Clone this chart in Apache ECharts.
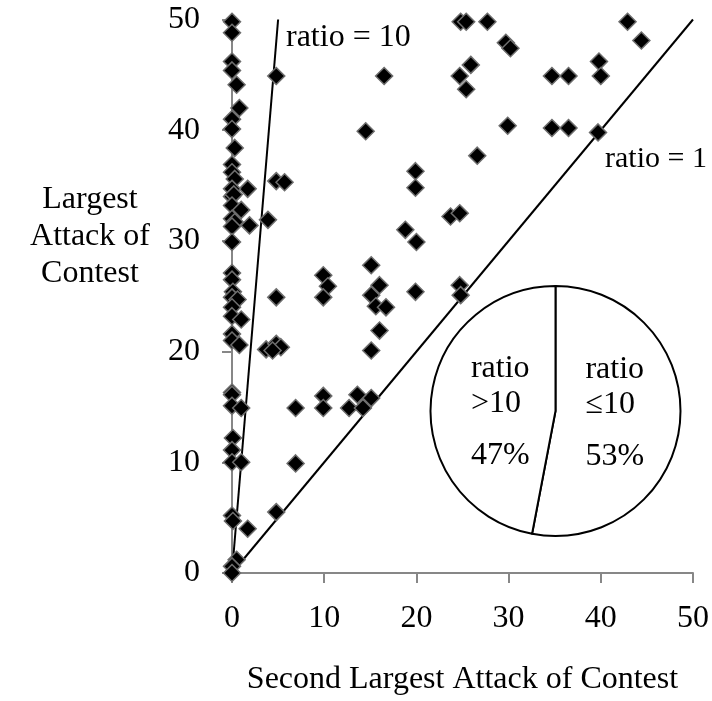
<!DOCTYPE html>
<html>
<head>
<meta charset="utf-8">
<script src="https://cdn.jsdelivr.net/npm/echarts@6/dist/echarts.min.js"></script>
<style>
html,body{margin:0;padding:0;background:#fff;}
#chart{width:712px;height:701px;}
</style>
</head>
<body>
<div id="chart"></div>
<script>
// Second largest attack (x) and largest attack (y) of each contest
const secondLargest = [
  0, 0, 0, 0, 0.5, 0.8, 0, 0, 0.3, 0, 0, 0.3, 1.7, 0, 0, 0.2, 0, 1.0, 0, 0.3,
  0, 1.9, 3.9, 0, 0, 0, 0.1, 0, 0.6, 0, 0, 1.0, 0, 0, 0.8, 0, 0, 0, 1.0, 0.1,
  0, 0, 1.0, 0, 0.1, 1.7, 0.5, 0, 0,
  4.8, 4.8, 5.7, 4.8, 3.7, 4.8, 5.3, 4.4, 4.8, 6.9, 6.9,
  16.5, 14.5, 24.8, 25.4, 27.7, 29.7, 30.2, 25.9, 24.7, 25.4, 29.9, 26.6, 19.9, 19.9,
  23.7, 24.7, 18.8, 20, 15.1, 16, 15.1, 15.6, 16.7, 19.9, 24.7, 24.8, 16, 15.1, 15.1,
  9.9, 10.4, 9.9, 9.9, 9.9, 12.7, 13.6, 14.2,
  42.9, 44.4, 34.7, 36.5, 39.8, 40, 34.7, 36.5, 39.7
];
const largest = [
  49.8, 48.8, 46.2, 45.4, 44.1, 42.0, 41.0, 40.1, 38.4, 36.9, 36.2, 35.6, 34.7, 34.7, 34.0, 34.2, 33.2, 32.8, 32.0, 31.7,
  31.3, 31.4, 31.9, 29.9, 27.1, 26.5, 25.4, 24.9, 24.7, 24.0, 23.2, 22.9, 21.6, 21.0, 20.6, 16.3, 16.1, 15.1, 14.9, 12.2,
  11.1, 10.0, 10.0, 5.2, 4.7, 4.0, 1.2, 0.6, 0,
  44.9, 35.4, 35.3, 24.9, 20.2, 20.7, 20.4, 20.1, 5.5, 14.9, 9.9,
  44.9, 39.9, 49.8, 49.8, 49.8, 47.9, 47.4, 45.9, 44.9, 43.7, 40.4, 37.7, 36.3, 34.8,
  32.2, 32.5, 31.0, 29.9, 27.8, 26.0, 25.1, 24.1, 24.0, 25.4, 26.0, 25.1, 21.9, 20.1, 15.8,
  26.9, 25.9, 24.9, 16.0, 14.9, 14.9, 16.1, 14.9,
  49.8, 48.1, 44.9, 44.9, 46.2, 44.9, 40.2, 40.2, 39.8
];
// Reference lines
const ratio10Line = [[0, 0], [5, 50]];
const ratio1Line = [[0, 0], [50, 50]];
const lineLabels = ['ratio = 10', 'ratio = 1'];
// Inset pie
const pieNames = ['ratio ≤10', 'ratio >10'];
const pieConds = ['≤10', '>10'];
const pieValues = [53, 47];
// Axes
const axisTicks = [0, 10, 20, 30, 40, 50];
const xTitle = 'Second Largest Attack of Contest';
const yTitle = 'Largest\nAttack of\nContest';

const points = secondLargest.map((x, i) => [x, largest[i]]);
const FONT = '"Liberation Serif", "Times New Roman", serif';
const FS = 32;

const chart = echarts.init(document.getElementById('chart'), null, {renderer: 'canvas'});
const axisCommon = {
  min: axisTicks[0], max: axisTicks[axisTicks.length - 1], interval: 10,
  splitLine: {show: false},
  axisLine: {show: true, lineStyle: {color: '#878787', width: 2}},
  axisTick: {show: true, length: 10, lineStyle: {color: '#878787', width: 2}},
  axisLabel: {fontFamily: FONT, fontSize: FS, color: '#000'}
};
chart.setOption({
  animation: false,
  backgroundColor: '#fff',
  grid: {left: 232, right: 18, top: 19.5, bottom: 124, containLabel: false},
  xAxis: Object.assign({}, axisCommon, {
    type: 'value',
    axisLabel: Object.assign({}, axisCommon.axisLabel, {margin: 30}),
    name: xTitle, nameLocation: 'middle', nameGap: 91,
    nameTextStyle: {fontFamily: FONT, fontSize: FS, color: '#000'}
  }),
  yAxis: Object.assign({}, axisCommon, {
    type: 'value',
    axisLabel: Object.assign({}, axisCommon.axisLabel, {margin: 32})
  }),
  graphic: [
    {type: 'text', x: 90, y: 237, z: 10,
     style: {text: yTitle, fontFamily: FONT, fontSize: FS, fill: '#000',
             align: 'center', verticalAlign: 'middle', lineHeight: 37}},
    {type: 'text', left: 286, top: 22, z: 10,
     style: {text: lineLabels[0], fontFamily: FONT, fontSize: FS, fill: '#000'}},
    {type: 'text', left: 605, top: 144, z: 10,
     style: {text: lineLabels[1], fontFamily: FONT, fontSize: 30, fill: '#000'}}
  ],
  series: [
    {type: 'line', data: ratio10Line, symbol: 'none', silent: true, z: 1,
     lineStyle: {color: '#000', width: 2}},
    {type: 'line', data: ratio1Line, symbol: 'none', silent: true, z: 1,
     lineStyle: {color: '#000', width: 2}},
    {type: 'scatter', data: points, symbol: 'diamond', symbolSize: 17, z: 3,
     itemStyle: {color: '#000', borderColor: '#6e6e6e', borderWidth: 1.5, opacity: 1}},
    {type: 'pie', center: [555.5, 411], radius: 125, startAngle: 90, clockwise: true,
     z: 5, silent: true,
     itemStyle: {color: '#fff', borderColor: '#000', borderWidth: 2},
     labelLine: {show: false},
     label: {
       show: true, position: 'inside', color: '#000',
       formatter: p => '{t|ratio}\n{t|' + pieConds[p.dataIndex] + '}\n{p|' + p.value + '%}',
       rich: {
         t: {fontFamily: FONT, fontSize: FS, color: '#000', lineHeight: 35, align: 'left'},
         p: {fontFamily: FONT, fontSize: FS, color: '#000', lineHeight: 69, align: 'left'}
       }
     },
     data: pieValues.map((v, i) => ({
       name: pieNames[i], value: v,
       label: {offset: i === 0 ? [-6, 4] : [10, 16]}
     }))}
  ]
});
</script>
</body>
</html>
